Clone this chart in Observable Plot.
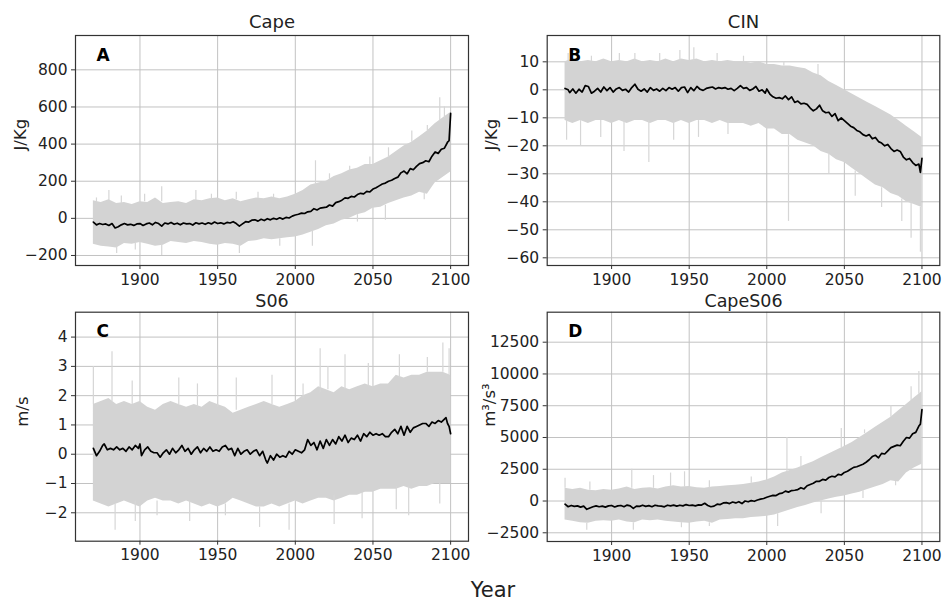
<!DOCTYPE html>
<html>
<head>
<meta charset="utf-8">
<script src="https://cdn.jsdelivr.net/npm/d3@7"></script>
<script src="https://cdn.jsdelivr.net/npm/@observablehq/plot@0.6"></script>
<style>
  html, body { margin: 0; padding: 0; background: #fff; }
  #wrap { position: relative; width: 943px; height: 602px; font-family: "DejaVu Sans", sans-serif; overflow: hidden; }
  .pnl { position: absolute; }
  .pnl svg { overflow: visible; }
  #xlab { position: absolute; left: 0; width: 986px; top: 578px; text-align: center; font-size: 21px; color: #222; }
</style>
</head>
<body>
<div id="wrap">
  <div class="pnl" id="pA" style="left:0px;top:0px"></div>
  <div class="pnl" id="pB" style="left:471px;top:0px"></div>
  <div class="pnl" id="pC" style="left:0px;top:285px"></div>
  <div class="pnl" id="pD" style="left:471px;top:285px"></div>
  <div id="xlab">Year</div>
</div>
<script>
// ---------- shared ----------
const xTicks = [1900, 1950, 2000, 2050, 2100];
const envYears = [1870,1875,1880,1885,1890,1895,1900,1905,1910,1915,1920,1925,1930,1935,1940,1945,1950,1955,1960,1965,1970,1975,1980,1985,1990,1995,2000,2005,2010,2015,2020,2025,2030,2035,2040,2045,2050,2055,2060,2065,2070,2075,2080,2085,2090,2095,2100];

// ---------- A: Cape ----------
const capeTicks = [-200, 0, 200, 400, 600, 800];
const capeHi = [95,85,100,80,85,75,90,85,110,80,85,90,80,100,95,105,110,95,105,90,100,110,105,115,105,115,130,150,180,190,200,225,240,260,270,290,290,310,330,360,390,410,440,470,510,540,570];
const capeLo = [-140,-150,-155,-160,-135,-140,-130,-140,-150,-145,-125,-130,-135,-125,-130,-140,-145,-135,-140,-150,-125,-120,-110,-115,-110,-105,-100,-90,-75,-60,-40,-30,-10,0,20,30,55,60,80,95,110,120,140,130,190,220,250];
const capeSpikes = [[1872,90,110],[1880,95,150],[1888,80,120],[1903,90,130],[1914,90,170],[1914,-140,-200],[1885,-155,-190],[1897,-135,-170],[1936,95,150],[1946,100,130],[1962,100,140],[1964,-140,-190],[1976,105,140],[1986,110,130],[1990,-110,-150],[2013,180,310],[2011,-70,-150],[2022,210,240],[2035,255,280],[2048,290,330],[2060,330,380],[2075,410,470],[2085,470,500],[2093,520,650],[2096,540,600],[2083,140,100],[2058,70,-10],[2040,20,-20]];
const capeMean = [[1870,-20],[1872,-35],[1874,-28],[1876,-33],[1878,-30],[1880,-38],[1882,-28],[1884,-52],[1886,-45],[1888,-35],[1890,-28],[1892,-35],[1894,-32],[1896,-38],[1898,-30],[1900,-28],[1902,-38],[1904,-30],[1906,-25],[1908,-35],[1910,-22],[1912,-28],[1914,-42],[1916,-25],[1918,-30],[1920,-22],[1922,-32],[1924,-26],[1926,-35],[1928,-25],[1930,-30],[1932,-28],[1934,-36],[1936,-24],[1938,-30],[1940,-25],[1942,-32],[1944,-24],[1946,-30],[1948,-20],[1950,-28],[1952,-24],[1954,-30],[1956,-22],[1958,-25],[1960,-18],[1962,-28],[1964,-42],[1966,-30],[1968,-18],[1970,-20],[1972,-10],[1974,-8],[1976,-15],[1978,-5],[1980,-12],[1982,-2],[1984,-8],[1986,0],[1988,-5],[1990,3],[1992,-4],[1994,5],[1996,2],[1998,12],[2000,18],[2002,22],[2004,28],[2006,26],[2008,35],[2010,38],[2012,52],[2014,45],[2016,55],[2018,58],[2020,60],[2022,72],[2024,66],[2026,85],[2028,90],[2030,98],[2032,110],[2034,108],[2036,118],[2038,115],[2040,128],[2042,135],[2044,132],[2046,145],[2048,142],[2050,158],[2052,165],[2054,175],[2056,185],[2058,190],[2060,200],[2062,205],[2064,215],[2066,222],[2068,245],[2070,255],[2072,240],[2074,268],[2076,262],[2078,280],[2080,295],[2082,300],[2084,310],[2086,305],[2088,335],[2090,358],[2092,350],[2094,372],[2096,378],[2098,410],[2099,418],[2100,565]];

// ---------- B: CIN ----------
const cinTicks = [-60, -50, -40, -30, -20, -10, 0, 10];
const cinHi = [10,11,10,10.5,10,11,10,10.5,10,11,10,10.5,10,11,10,11,10.5,11,10,10.5,10,10.5,10,10,9.5,10,9,9,8.5,8.5,8,7.5,6,5,3,1.5,0,-1.5,-3,-4.5,-6,-7.5,-9,-11,-13,-15,-17];
const cinLo = [-11,-12,-11,-12,-11,-11,-12,-11,-12,-11,-11,-12,-11,-11,-12,-11,-12,-11,-11,-12,-11,-12,-12,-12,-13,-12,-14,-14,-16,-16,-18,-19,-20,-22,-23,-25,-26,-28,-30,-32,-34,-35,-37,-38,-40,-41,-42];
const cinSpikes = [[1872,10,13],[1887,10,12],[1905,10,13],[1915,10,13],[1931,10,13],[1944,10,14],[1953,10,15],[1968,10,13],[1985,10,12],[2011,8.5,10],[2033,5,9],[1871,-11,-18],[1880,-11,-20],[1893,-11,-17],[1908,-11,-22],[1924,-11,-26],[1940,-11,-18],[1956,-11,-17],[1975,-11,-16],[2014,-16,-47],[2040,-23,-30],[2057,-29,-38],[2074,-35,-42],[2087,-39,-47],[2093,-40,-53],[2099,-42,-58]];
const cinMean = [[1870,0.5],[1872,0],[1873,-1],[1875,0.3],[1877,-1.2],[1879,0.2],[1881,-0.8],[1883,1.5],[1885,1.2],[1887,-1.2],[1889,-0.5],[1891,0.5],[1893,-0.8],[1895,1.0],[1897,-0.3],[1899,0.8],[1901,-0.8],[1903,0.3],[1905,0.8],[1907,-0.2],[1909,0.2],[1911,-0.8],[1913,0.8],[1915,2.0],[1917,0.2],[1919,-0.5],[1921,0.3],[1923,-0.8],[1925,0.8],[1927,-0.2],[1929,0.3],[1931,-0.5],[1933,0.5],[1935,-0.3],[1937,0.8],[1939,0.2],[1941,0.8],[1943,-0.5],[1945,0.8],[1947,1.0],[1949,-1.0],[1951,0.8],[1953,-0.3],[1955,1.2],[1957,0.2],[1959,-0.2],[1961,0.5],[1963,0.8],[1965,1.0],[1967,0.3],[1969,0.8],[1971,0.5],[1973,0.8],[1975,0.2],[1977,0.5],[1979,-0.3],[1981,0.5],[1983,1.5],[1985,0.5],[1987,0.8],[1989,-0.2],[1991,0.3],[1993,1.2],[1995,-0.5],[1997,0],[1999,-1.2],[2000,0.3],[2002,-1.5],[2004,-2.5],[2006,-3.0],[2008,-2.8],[2010,-3.2],[2012,-2.2],[2014,-3.5],[2016,-2.5],[2018,-4.5],[2020,-4.0],[2022,-5.0],[2024,-4.8],[2026,-5.2],[2028,-6.5],[2030,-7.5],[2032,-6.8],[2034,-5.5],[2036,-7.5],[2038,-8.2],[2040,-8.0],[2042,-9.5],[2044,-8.5],[2046,-11],[2048,-10],[2050,-11],[2052,-12],[2054,-13],[2056,-13.5],[2058,-14.5],[2060,-15],[2062,-16],[2064,-16.5],[2066,-16],[2068,-17.5],[2070,-17],[2072,-18.5],[2074,-19],[2076,-20],[2078,-19.5],[2080,-21],[2082,-22],[2084,-21.5],[2086,-22],[2088,-24],[2090,-25],[2092,-24.5],[2094,-26],[2096,-27],[2098,-26.5],[2099,-29.5],[2100,-24.5]];

// ---------- C: S06 ----------
const s06Ticks = [-2, -1, 0, 1, 2, 3, 4];
const s06Hi = [1.7,1.8,1.9,1.7,1.8,1.7,1.8,1.6,1.5,1.7,1.8,1.7,1.6,1.7,1.6,1.8,1.7,1.6,1.4,1.5,1.6,1.7,1.8,1.7,1.6,1.7,1.8,2.0,2.1,2.3,2.2,2.1,2.3,2.2,2.3,2.4,2.3,2.4,2.4,2.7,2.6,2.7,2.7,2.8,2.8,2.8,2.7];
const s06Lo = [-1.6,-1.7,-1.8,-1.7,-1.6,-1.7,-1.8,-1.6,-1.5,-1.6,-1.6,-1.7,-1.6,-1.7,-1.8,-1.7,-1.8,-1.7,-1.5,-1.6,-1.7,-1.8,-1.8,-1.7,-1.8,-1.7,-1.6,-1.7,-1.6,-1.5,-1.5,-1.6,-1.5,-1.4,-1.4,-1.3,-1.3,-1.2,-1.2,-1.2,-1.1,-1.2,-1.1,-1.1,-1.0,-1.0,-1.0];
const s06Spikes = [[1870,1.7,3.0],[1882,1.8,3.5],[1895,1.7,2.5],[1925,1.7,2.6],[1937,1.6,2.4],[1950,1.6,2.9],[1962,1.5,2.6],[1985,1.7,2.7],[2005,1.9,2.4],[2016,2.1,3.6],[2021,2.2,3.0],[2032,2.2,3.4],[2047,2.3,3.1],[2067,2.6,3.4],[2085,2.8,3.3],[2095,2.8,3.8],[2099,2.7,3.6],[1884,-1.7,-2.6],[1897,-1.6,-2.3],[1911,-1.6,-2.1],[1932,-1.6,-2.3],[1955,-1.7,-2.1],[1977,-1.8,-2.5],[1996,-1.7,-2.6],[2025,-1.4,-2.4],[2043,-1.3,-2.2],[2065,-1.1,-1.9],[2073,-1.1,-2.1],[2093,-1.0,-1.7]];
const s06Mean = [[1870,0.2],[1872,-0.05],[1874,0.1],[1876,0.3],[1877,0.35],[1879,0.15],[1881,0.2],[1883,0.15],[1885,0.25],[1887,0.15],[1889,0.2],[1891,0.1],[1893,0.25],[1895,0.15],[1897,0.3],[1899,0.2],[1900,0.35],[1901,-0.05],[1903,0.15],[1905,0.25],[1907,0.1],[1909,0.05],[1911,0.05],[1913,-0.1],[1915,0.05],[1917,0.15],[1919,0.0],[1921,0.2],[1923,0.05],[1925,0.15],[1927,0.3],[1929,0.1],[1931,0.2],[1933,0.0],[1935,0.15],[1937,0.25],[1939,0.05],[1941,0.2],[1943,0.1],[1945,0.25],[1947,0.1],[1949,0.15],[1951,0.1],[1953,0.25],[1955,0.3],[1957,0.15],[1959,0.2],[1961,-0.05],[1963,0.2],[1965,0.0],[1967,0.1],[1969,0.15],[1971,0.0],[1973,0.1],[1975,0.15],[1977,-0.05],[1979,0.1],[1981,-0.2],[1982,-0.3],[1984,-0.05],[1986,-0.2],[1988,0.0],[1990,-0.1],[1992,-0.05],[1994,-0.1],[1996,0.1],[1998,0.0],[2000,0.15],[2002,0.1],[2004,0.05],[2006,0.15],[2008,0.5],[2010,0.3],[2012,0.4],[2014,0.15],[2016,0.45],[2018,0.2],[2020,0.5],[2022,0.3],[2024,0.5],[2026,0.35],[2028,0.6],[2030,0.45],[2032,0.65],[2034,0.4],[2036,0.55],[2038,0.5],[2040,0.65],[2042,0.45],[2044,0.7],[2046,0.6],[2048,0.75],[2050,0.65],[2052,0.7],[2054,0.65],[2056,0.7],[2058,0.6],[2060,0.6],[2062,0.75],[2064,0.85],[2066,0.7],[2068,0.95],[2070,0.65],[2072,0.95],[2074,0.75],[2076,0.9],[2078,0.95],[2080,1.0],[2082,1.05],[2084,1.05],[2086,0.95],[2088,1.1],[2090,1.05],[2092,1.15],[2094,1.1],[2096,1.2],[2097,1.25],[2098,1.05],[2099,0.95],[2100,0.7]];

// ---------- D: CapeS06 ----------
const capes06Ticks = [-2500, 0, 2500, 5000, 7500, 10000, 12500];
const capes06Hi = [1000,900,1000,850,800,900,850,950,1100,900,1000,1050,950,1100,1200,1100,1150,1050,1000,1100,1150,1200,1250,1300,1400,1500,1650,1900,2200,2400,2600,2850,3100,3400,3700,4000,4300,4600,5000,5400,5800,6200,6600,7100,7600,8100,8600];
const capes06Lo = [-1500,-1600,-1700,-1750,-1600,-1550,-1600,-1500,-1650,-1700,-1500,-1550,-1500,-1600,-1650,-1700,-1750,-1650,-1600,-1750,-1500,-1450,-1400,-1400,-1300,-1250,-1200,-1100,-900,-700,-500,-350,-150,0,150,300,400,550,700,900,1100,1300,1600,1500,2200,2600,2900];
const capes06Spikes = [[1870,1000,1800],[1886,850,1500],[1913,1000,2500],[1927,1000,2000],[1938,1150,2200],[1947,1100,2300],[1963,1000,1600],[1990,1400,1900],[2013,2300,5000],[2022,2700,3500],[2048,4200,5700],[2063,5300,5600],[2080,6600,7500],[2093,7900,9000],[2098,8400,10200],[1884,-1750,-2300],[1914,-1700,-2300],[1945,-1700,-2100],[1963,-1700,-2000],[2007,-1000,-2000],[2035,0,-1000],[2062,800,200],[2083,1550,1200]];
const capes06Mean = [[1870,-250],[1872,-450],[1874,-350],[1876,-420],[1878,-380],[1880,-480],[1882,-400],[1884,-650],[1886,-550],[1888,-450],[1890,-380],[1892,-450],[1894,-400],[1896,-480],[1898,-380],[1900,-350],[1902,-470],[1904,-380],[1906,-350],[1908,-450],[1910,-320],[1912,-380],[1914,-580],[1916,-400],[1918,-420],[1920,-330],[1922,-420],[1924,-360],[1926,-450],[1928,-330],[1930,-380],[1932,-400],[1934,-460],[1936,-330],[1938,-380],[1940,-320],[1942,-400],[1944,-330],[1946,-380],[1948,-280],[1950,-350],[1952,-320],[1954,-380],[1956,-300],[1958,-320],[1960,-180],[1962,-350],[1964,-450],[1966,-400],[1968,-250],[1970,-280],[1972,-150],[1974,-130],[1976,-200],[1978,-80],[1980,-150],[1982,-50],[1984,-200],[1986,0],[1988,-60],[1990,30],[1992,-20],[1994,80],[1996,150],[1998,200],[2000,300],[2002,380],[2004,450],[2006,430],[2008,580],[2010,620],[2012,780],[2014,700],[2016,820],[2018,850],[2020,900],[2022,1050],[2024,950],[2026,1200],[2028,1300],[2030,1400],[2032,1550],[2034,1550],[2036,1700],[2038,1650],[2040,1850],[2042,1950],[2044,1900],[2046,2100],[2048,2050],[2050,2250],[2052,2350],[2054,2500],[2056,2650],[2058,2700],[2060,2800],[2062,2900],[2064,3050],[2066,3250],[2068,3500],[2070,3600],[2072,3400],[2074,3750],[2076,3700],[2078,3950],[2080,4200],[2082,4300],[2084,4400],[2086,4350],[2088,4700],[2090,5000],[2092,4950],[2094,5300],[2096,5400],[2098,5900],[2099,6050],[2100,7200]];

// ---------- drawing ----------
const fmt = d => (d < 0 ? "\u2212" + Math.abs(d) : String(d));

function panel(o) {
  const env = envYears.map((year, i) => ({year, lo: o.lo[i], hi: o.hi[i]}));
  return Plot.plot({
    width: o.width, height: 300,
    marginLeft: o.ml, marginRight: o.mr, marginTop: o.mt, marginBottom: o.mb,
    x: {domain: [1858.5, 2111.5]},
    y: {domain: o.yDomain},
    style: {fontFamily: "DejaVu Sans", fontSize: "15.5px", color: "#222", background: "none", overflow: "visible"},
    marks: [
      Plot.gridX(xTicks, {stroke: "#c2c2c2", strokeOpacity: 1, strokeWidth: 1}),
      Plot.gridY(o.ticks, {stroke: "#c2c2c2", strokeOpacity: 1, strokeWidth: 1}),
      Plot.areaY(env, {x: "year", y1: "lo", y2: "hi", fill: "#d3d3d3"}),
      Plot.ruleX(o.spikes, {x: d => d[0], y1: d => d[1], y2: d => d[2], stroke: "#d6d6d6", strokeWidth: 1.2}),
      Plot.line(o.mean, {x: d => d[0], y: d => d[1], stroke: "#000", strokeWidth: 1.7}),
      Plot.frame({stroke: "#333", strokeWidth: 1.2}),
      Plot.axisX(xTicks, {tickSize: 4, tickPadding: 4, tickFormat: fmt, label: null, stroke: "#333"}),
      Plot.axisY(o.ticks, {tickSize: 4, tickPadding: 4, tickFormat: fmt, label: null, stroke: "#333"}),
      Plot.text([o.title], {frameAnchor: "top", dy: o.titleDy, fontSize: o.titleSize, fill: "#222"}),
      Plot.text([o.letter], {frameAnchor: "top-left", dx: 21, dy: 13, lineAnchor: "top", textAnchor: "start", fontWeight: "bold", fontSize: 17, fill: "#000"}),
      Plot.text([o.ylabel], {frameAnchor: "left", dx: o.ylDx, rotate: -90, fontSize: 16.5, fill: "#222"})
    ]
  });
}

document.getElementById("pA").append(panel({
  width: 471, ml: 75, mr: 3, mt: 35, mb: 35, yDomain: [-254, 985], ticks: capeTicks,
  hi: capeHi, lo: capeLo, spikes: capeSpikes, mean: capeMean,
  title: "Cape", titleDy: -20, titleSize: 18, letter: "A", ylabel: "J/Kg", ylDx: -55
}));
document.getElementById("pB").append(panel({
  width: 472, ml: 75.7, mr: 3.7, mt: 35, mb: 35, yDomain: [-62.75, 19.4], ticks: cinTicks,
  hi: cinHi, lo: cinLo, spikes: cinSpikes, mean: cinMean,
  title: "CIN", titleDy: -20, titleSize: 18, letter: "B", ylabel: "J/Kg", ylDx: -55
}));
document.getElementById("pC").append(panel({
  width: 471, ml: 75, mr: 3, mt: 26.7, mb: 44.3, yDomain: [-2.97, 4.85], ticks: s06Ticks,
  hi: s06Hi, lo: s06Lo, spikes: s06Spikes, mean: s06Mean,
  title: "S06", titleDy: -18, titleSize: 17.5, letter: "C", ylabel: "m/s", ylDx: -53
}));
document.getElementById("pD").append(panel({
  width: 472, ml: 75.7, mr: 3.7, mt: 26.7, mb: 44, yDomain: [-3185, 14860], ticks: capes06Ticks,
  hi: capes06Hi, lo: capes06Lo, spikes: capes06Spikes, mean: capes06Mean,
  title: "CapeS06", titleDy: -18, titleSize: 17.5, letter: "D", ylabel: "m\u00B3/s\u00B3", ylDx: -57
}));
</script>
</body>
</html>
